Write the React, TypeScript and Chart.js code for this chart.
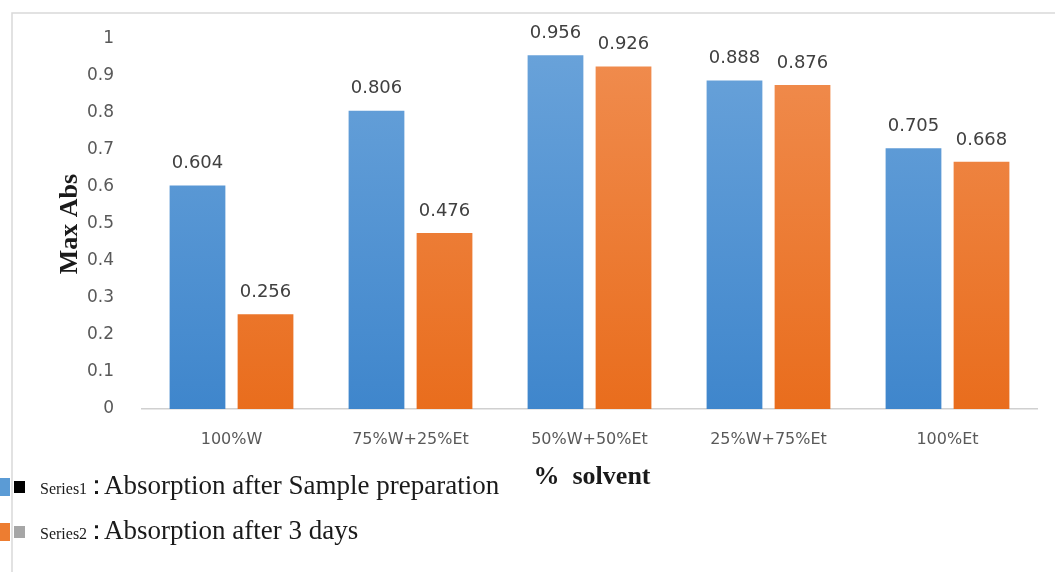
import React, { useEffect, useRef } from "react";
import { Chart, registerables } from "chart.js";

Chart.register(...registerables);

const categories = ["100%W", "75%W+25%Et", "50%W+50%Et", "25%W+75%Et", "100%Et"];
const series1 = [0.604, 0.806, 0.956, 0.888, 0.705];
const series2 = [0.256, 0.476, 0.926, 0.876, 0.668];
const yTicks = [0, 0.1, 0.2, 0.3, 0.4, 0.5, 0.6, 0.7, 0.8, 0.9, 1];
const legendItems = [
  { small: "Series1", text: "Absorption after Sample preparation", color: "#5b9bd5", inner: "#000000" },
  { small: "Series2", text: "Absorption after 3 days", color: "#ed7d31", inner: "#a6a6a6" },
];

const SANS = "'DejaVu Sans', 'Open Sans', sans-serif";
const SERIF = "'Liberation Serif', 'DejaVu Serif', serif";

function grad(ctx: any, top: string, bottom: string) {
  const chart = ctx.chart;
  const area = chart.chartArea;
  if (!area) return top;
  const g = chart.ctx.createLinearGradient(0, area.top, 0, area.bottom);
  g.addColorStop(0, top);
  g.addColorStop(1, bottom);
  return g;
}

const decorPlugin = {
  id: "decor",
  beforeDraw(chart: any) {
    const c = chart.ctx;
    c.save();
    c.fillStyle = "#ffffff";
    c.fillRect(0, 0, chart.width, chart.height);
    c.strokeStyle = "#d9d9d9";
    c.lineWidth = 1.5;
    c.beginPath();
    c.moveTo(12, chart.height);
    c.lineTo(12, 13);
    c.lineTo(chart.width, 13);
    c.stroke();
    c.restore();
  },
  afterDatasetsDraw(chart: any) {
    const c = chart.ctx;
    c.save();
    c.font = `18px ${SANS}`;
    c.fillStyle = "#404040";
    c.textAlign = "center";
    c.textBaseline = "middle";
    chart.data.datasets.forEach((ds: any, i: number) => {
      const meta = chart.getDatasetMeta(i);
      meta.data.forEach((bar: any, j: number) => {
        c.fillText(ds.data[j].toFixed(3), bar.x, bar.y - 22);
      });
    });
    // axis titles
    const area = chart.chartArea;
    c.fillStyle = "#1a1a1a";
    c.font = `bold 26px ${SERIF}`;
    c.textAlign = "center";
    c.fillText("%  solvent", 592, 477);
    c.save();
    c.translate(70, (area.top + area.bottom) / 2);
    c.rotate(-Math.PI / 2);
    c.fillText("Max Abs", 0, 0);
    c.restore();
    // legend
    const rows = [487, 532];
    legendItems.forEach((it, k) => {
      const y = rows[k];
      c.fillStyle = it.color;
      c.fillRect(0, y - 9, 10, 18);
      c.fillStyle = it.inner;
      c.fillRect(14, y - 6, 11, 12);
      c.fillStyle = "#1a1a1a";
      c.textAlign = "left";
      c.textBaseline = "alphabetic";
      c.font = `16px ${SERIF}`;
      c.fillText(it.small, 40, y + 7);
      let x = 40 + c.measureText(it.small).width;
      c.font = `27px ${SERIF}`;
      c.fillText("\uFF1A", x - 4, y + 7);
      x += 17;
      c.fillText(it.text, x, y + 7);
    });
    c.restore();
  },
};

export default function App() {
  const ref = useRef<HTMLCanvasElement>(null);
  useEffect(() => {
    if (!ref.current) return;
    const chart = new Chart(ref.current, {
      type: "bar",
      data: {
        labels: categories,
        datasets: [
          {
            label: "Series1",
            data: series1,
            backgroundColor: (ctx: any) => grad(ctx, "#6aa3da", "#3f86cc"),
            barPercentage: 0.82,
            categoryPercentage: 0.76,
          },
          {
            label: "Series2",
            data: series2,
            backgroundColor: (ctx: any) => grad(ctx, "#f08d50", "#e96d1d"),
            barPercentage: 0.82,
            categoryPercentage: 0.76,
          },
        ],
      },
      options: {
        animation: false,
        responsive: false,
        layout: { padding: { left: 0, right: 18, top: 39, bottom: 0 } },
        plugins: { legend: { display: false }, tooltip: { enabled: false } },
        scales: {
          x: {
            grid: { display: false },
            border: { display: true, color: "#d0d0d0", width: 1.5 },
            ticks: { color: "#595959", font: { size: 16, family: SANS }, padding: 13, maxRotation: 0 },
            afterFit: (s: any) => { s.height = 163; },
          },
          y: {
            min: 0,
            max: 1,
            afterBuildTicks: (s: any) => { s.ticks = yTicks.map((v) => ({ value: v })); },
            grid: { display: false },
            border: { display: false },
            ticks: {
              color: "#595959",
              font: { size: 17, family: SANS },
              padding: 20,
              callback: (v: any) => String(Math.round(Number(v) * 10) / 10),
            },
            afterFit: (s: any) => { s.width = 142; },
          },
        },
      },
      plugins: [decorPlugin],
    });
    return () => chart.destroy();
  }, []);
  return (
    <div style={{ position: "fixed", left: 0, top: 0, width: 1055, height: 572, background: "#fff" }}>
      <canvas ref={ref} width={1055} height={572} style={{ display: "block" }} />
    </div>
  );
}
